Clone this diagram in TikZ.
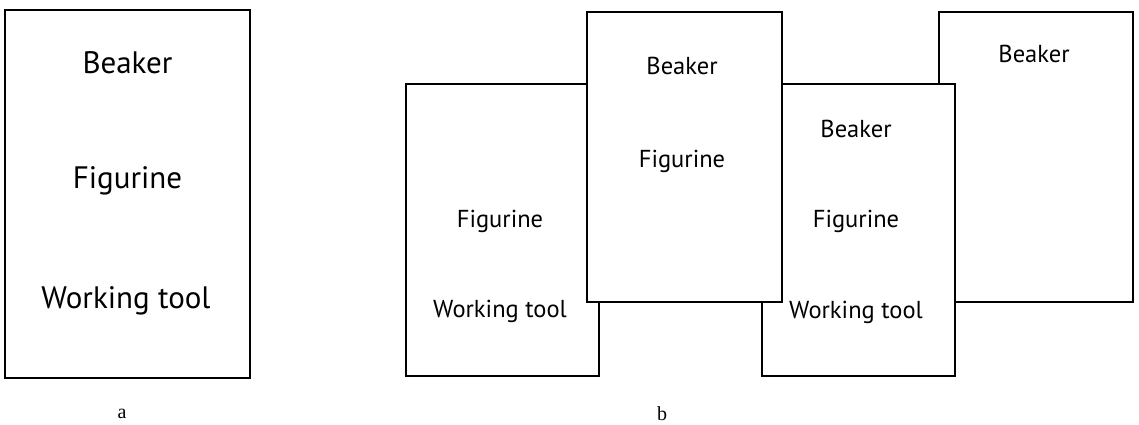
\documentclass[tikz,border=0pt]{standalone}
\usepackage{fontspec}
\setmainfont{Liberation Serif}
\newfontfamily\sheetfont{PT Sans}
\begin{document}
\begin{tikzpicture}[x=1pt,y=-1pt]
    \tikzset{
        sheet/.style={draw, line width=1.5pt, fill=white},
        bigtxt/.style={anchor=base, font=\sheetfont\fontsize{31}{33}\selectfont},
        smalltxt/.style={anchor=base, font=\sheetfont\fontsize{24.5}{26}\selectfont},
        caption/.style={anchor=base, font=\fontsize{20}{22}\selectfont}
    }
    \useasboundingbox (0,0) rectangle (1139,425);
    % Pannello a
    \draw[sheet, line width=2pt] (5,10) rectangle (250,378);
    \node[bigtxt] (abeaker) at (127.5,74) {Beaker};
    \node[bigtxt] (afigurine) at (127.5,188) {Figurine};
    \node[bigtxt] (atool) at (126,308) {Working tool};
    \node[caption] (capa) at (122,418) {a};
    % Pannello b (fogli sovrapposti)
    \draw[sheet] (406,84) rectangle (599,376);
    \draw[sheet] (939,12) rectangle (1133,302);
    \draw[sheet] (762,84) rectangle (955,376);
    \draw[sheet] (587,12) rectangle (782,302);
    \node[smalltxt] (bfigurine1) at (500,227) {Figurine};
    \node[smalltxt] (btool1) at (500,317) {Working tool};
    \node[smalltxt] (bbeaker2) at (682,75) {Beaker};
    \node[smalltxt] (bfigurine2) at (682,167) {Figurine};
    \node[smalltxt] (bbeaker3) at (856,137) {Beaker};
    \node[smalltxt] (bfigurine3) at (856,227) {Figurine};
    \node[smalltxt] (btool3) at (856,318) {Working tool};
    \node[smalltxt] (bbeaker4) at (1034,63) {Beaker};
    \node[caption] (capb) at (662,420) {b};
\end{tikzpicture}
\end{document}
